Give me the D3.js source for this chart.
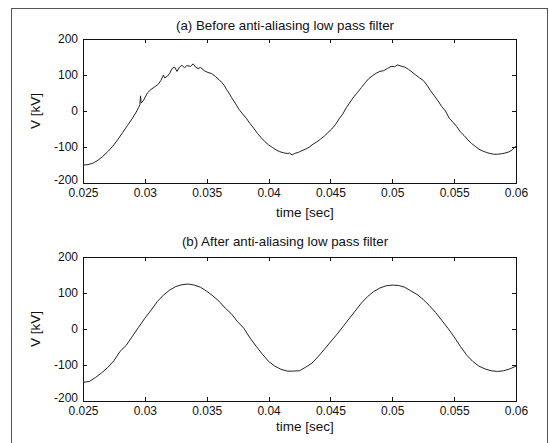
<!DOCTYPE html>
<html>
<head>
<meta charset="utf-8">
<script src="https://cdn.jsdelivr.net/npm/d3@7"></script>
<style>
  body { margin: 0; background: #fff; }
  text { font-family: "Liberation Sans", Arial, sans-serif; fill: #111; }
  .axis path, .axis line { stroke: #111; shape-rendering: crispEdges; }
</style>
</head>
<body>
<div id="chart-area"></div>
<script>
// time axis ticks and voltage ticks
const xTicks = [0.025, 0.03, 0.035, 0.04, 0.045, 0.05, 0.055, 0.06];
const yTicks = [-200, -100, 0, 100, 200];

// (a) before anti-aliasing filter (noisy)
const timeA = [0.025, 0.0254, 0.0258, 0.0262, 0.0266, 0.027, 0.0274, 0.0278, 0.0282, 0.0286,
  0.029, 0.0293, 0.0295, 0.0296, 0.02965, 0.0297, 0.0299, 0.0302, 0.0305, 0.0308,
  0.0311, 0.0313, 0.0315, 0.0316, 0.0318, 0.032, 0.0322, 0.0324, 0.0326, 0.0328,
  0.033, 0.0332, 0.0334, 0.0337, 0.0339, 0.0341, 0.0343, 0.0345, 0.0348, 0.0351,
  0.0354, 0.0357, 0.036, 0.0362, 0.0364, 0.0366, 0.0368, 0.037, 0.0373, 0.0376,
  0.0379, 0.0382, 0.0385, 0.0388, 0.0391, 0.0394, 0.0397, 0.04, 0.0403, 0.0406,
  0.0409, 0.0412, 0.0415, 0.0417, 0.0419, 0.0421, 0.0424, 0.0427, 0.043, 0.0433,
  0.0436, 0.0439, 0.0442, 0.0445, 0.0448, 0.0451, 0.0454, 0.0457, 0.046, 0.0463,
  0.0466, 0.0469, 0.0472, 0.0475, 0.0478, 0.0481, 0.0484, 0.0487, 0.049, 0.0493,
  0.0496, 0.0499, 0.0502, 0.0504, 0.0507, 0.051, 0.0513, 0.0516, 0.0519, 0.0522,
  0.0525, 0.0528, 0.0531, 0.0534, 0.0537, 0.054, 0.0543, 0.0546, 0.0549, 0.0552,
  0.0555, 0.0558, 0.0561, 0.0564, 0.0567, 0.057, 0.0573, 0.0576, 0.0579, 0.0582,
  0.0585, 0.0588, 0.0591, 0.0594, 0.0597, 0.06];
const voltA = [-150, -149, -145, -137, -126, -113, -98, -80, -60, -40,
  -20, -3, 10, 18, 42, 22, 30, 50, 60, 67,
  75, 85, 100, 92, 96, 104, 118, 122, 110, 122,
  127, 120, 126, 124, 131, 122, 118, 121, 112, 107,
  104, 96, 87, 80, 72, 60, 50, 38, 22, 5,
  -8, -20, -35, -48, -62, -74, -85, -94, -101, -108,
  -113, -116, -118, -117, -122, -118, -115, -110, -106, -100,
  -92, -86, -78, -70, -60, -50, -38, -22, -8, 10,
  25, 40, 52, 65, 78, 90, 98, 105, 110, 112,
  118, 124, 123, 128, 125, 122, 116, 108, 100, 92,
  85, 72, 56, 42, 28, 12, 0, -20, -31, -43,
  -58, -68, -80, -90, -98, -106, -111, -115, -118, -120,
  -120, -119, -117, -114, -108, -97];

// (b) after anti-aliasing filter (smooth)
const timeB = [0.025, 0.0255, 0.026, 0.0265, 0.027, 0.0275, 0.028, 0.0285, 0.029, 0.0295,
  0.03, 0.0305, 0.031, 0.0315, 0.032, 0.0325, 0.033, 0.0335, 0.034, 0.0345,
  0.035, 0.0355, 0.036, 0.0365, 0.037, 0.0375, 0.038, 0.0385, 0.039, 0.0395,
  0.04, 0.0405, 0.041, 0.0415, 0.042, 0.0425, 0.043, 0.0435, 0.044, 0.0445,
  0.045, 0.0455, 0.046, 0.0465, 0.047, 0.0475, 0.048, 0.0485, 0.049, 0.0495,
  0.05, 0.0505, 0.051, 0.0515, 0.052, 0.0525, 0.053, 0.0535, 0.054, 0.0545,
  0.055, 0.0555, 0.056, 0.0565, 0.057, 0.0575, 0.058, 0.0585, 0.059, 0.0595, 0.06];
const voltB = [-148, -146, -135, -122, -107, -88, -62, -45, -20, 5,
  30, 52, 76, 94, 108, 118, 123, 125, 122, 116,
  105, 92, 77, 58, 42, 20, 2, -25, -48, -70,
  -90, -103, -112, -117, -117, -116, -106, -95, -77, -57,
  -36, -16, 6, 28, 50, 72, 90, 104, 114, 120,
  122, 121, 116, 106, 96, 82, 65, 46, 24, 2,
  -22, -48, -72, -90, -103, -111, -116, -118, -116, -111, -103];

const panels = [
  {title: '(a) Before anti-aliasing low pass filter', time: timeA, volt: voltA, top: 39, titleDy: -9, labelDy: 34},
  {title: '(b) After anti-aliasing low pass filter', time: timeB, volt: voltB, top: 257, titleDy: -11, labelDy: 30}
];

const svgW = 549, svgH = 443;
const left = 83, width = 433, height = 144;

const svg = d3.select('#chart-area')
    .append('svg')
        .attr('width', svgW)
        .attr('height', svgH);

// outer frame
svg.append('rect')
    .attr('x', 11.5).attr('y', 8.5)
    .attr('width', 536).attr('height', 450)
    .attr('fill', 'none')
    .attr('stroke', '#555')
    .attr('stroke-width', 1);

const x = d3.scaleLinear()
    .domain([0.025, 0.06])
    .range([0, width]);

const y = d3.scaleLinear()
    .domain([-200, 200])
    .range([height, 0]);

const fmtX = d => String(+d.toFixed(3));

panels.forEach(p => {
    const g = svg.append('g')
        .attr('transform', `translate(${left}, ${p.top})`);

    g.append('g')
        .attr('class', 'axis')
        .attr('transform', `translate(0, ${height})`)
        .call(d3.axisBottom(x).tickValues(xTicks).tickSize(-4).tickPadding(5).tickFormat(fmtX))
        .call(s => s.selectAll('text').attr('font-size', '12px').attr('font-family', null));

    g.append('g')
        .attr('class', 'axis')
        .call(d3.axisTop(x).tickValues(xTicks).tickSize(-4).tickFormat(''));

    g.append('g')
        .attr('class', 'axis')
        .call(d3.axisLeft(y).tickValues(yTicks).tickSize(-4).tickPadding(5).tickFormat(d => String(d)))
        .call(s => s.selectAll('text').attr('font-size', '12px').attr('font-family', null))
        // lowest label sits just above the x tick labels
        .call(s => s.selectAll('.tick text').filter(d => d === -200).attr('dy', '0.05em'));

    g.append('g')
        .attr('class', 'axis')
        .attr('transform', `translate(${width}, 0)`)
        .call(d3.axisRight(y).tickValues(yTicks).tickSize(-4).tickFormat(''));

    const pts = p.time.map((t, i) => [t, p.volt[i]]);
    g.append('path')
        .datum(pts)
        .attr('fill', 'none')
        .attr('stroke', '#222')
        .attr('stroke-width', 1)
        .attr('d', d3.line().x(d => x(d[0])).y(d => y(d[1])));

    // title
    g.append('text')
        .attr('x', 202)
        .attr('y', p.titleDy)
        .attr('font-size', '13.3px')
        .attr('text-anchor', 'middle')
        .text(p.title);

    // x label
    g.append('text')
        .attr('x', 222)
        .attr('y', height + p.labelDy)
        .attr('font-size', '13.5px')
        .attr('text-anchor', 'middle')
        .text('time [sec]');

    // y label
    g.append('text')
        .attr('x', -height / 2)
        .attr('y', -43)
        .attr('font-size', '13.5px')
        .attr('text-anchor', 'middle')
        .attr('transform', 'rotate(-90)')
        .text('V [kV]');
});
</script>
</body>
</html>
